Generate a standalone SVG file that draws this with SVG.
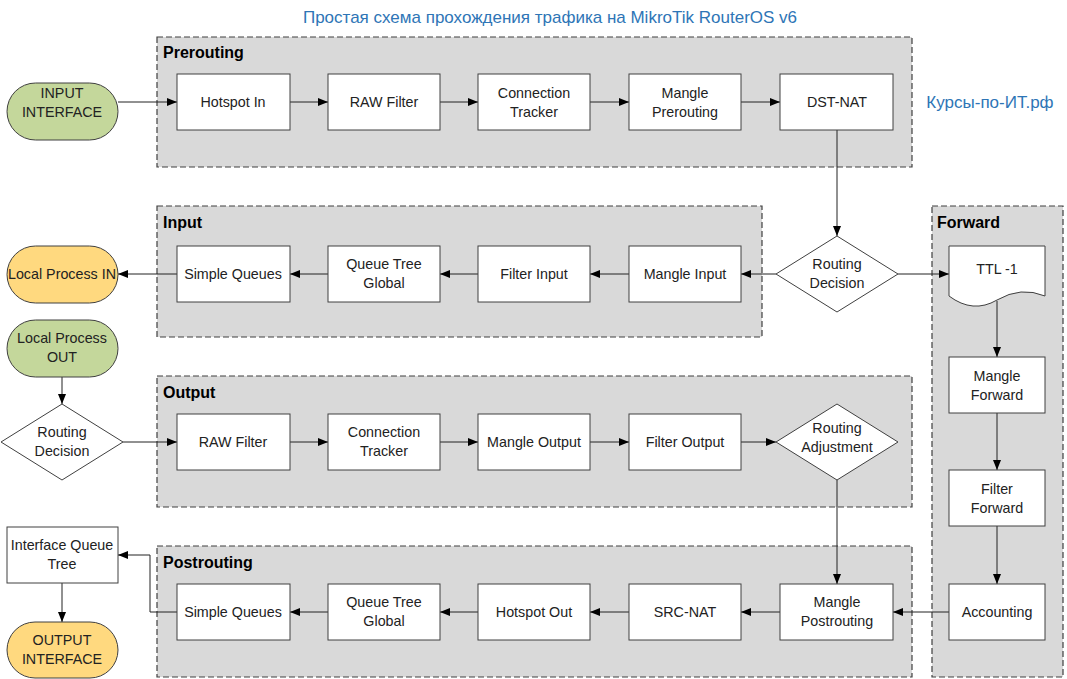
<svg xmlns="http://www.w3.org/2000/svg" width="1067" height="679" viewBox="0 0 1067 679">
<defs>
<marker id="ah" markerWidth="10" markerHeight="8" refX="10" refY="4" orient="auto" markerUnits="userSpaceOnUse">
<path d="M0,0 L10,4 L0,8 Z" fill="#000"/>
</marker>
<style>
.cl{fill:#D9D9D9;stroke:#404040;stroke-width:1.2;stroke-dasharray:6,3}
.ct{font-family:"Liberation Sans",Arial,sans-serif;font-weight:bold;font-size:16px;fill:#000}
.bx{fill:#fff;stroke:#404040;stroke-width:1}
.t{font-family:"Liberation Sans",Arial,sans-serif;font-size:14.3px;fill:#222;text-anchor:middle}
.gr{fill:#C4D79B;stroke:#404040;stroke-width:1}
.yl{fill:#FFD97F;stroke:#404040;stroke-width:1}
.ln{fill:none;stroke:#222;stroke-width:1;marker-end:url(#ah)}
.bl{font-family:"Liberation Sans",Arial,sans-serif;font-size:17px;fill:#2E75B6}
</style>
</defs>
<rect width="1067" height="679" fill="#fff"/>
<text class="bl" x="550" y="23" text-anchor="middle">Простая схема прохождения трафика на MikroTik RouterOS v6</text>
<text class="bl" x="990" y="108" text-anchor="middle">Курсы-по-ИТ.рф</text>

<g id="clusters">
<g id="prerouting"><rect class="cl" x="157" y="37" width="755" height="130"/><text class="ct" x="163" y="58">Prerouting</text></g>
<g id="input"><rect class="cl" x="157" y="206" width="605" height="131"/><text class="ct" x="163" y="228">Input</text></g>
<g id="forward"><rect class="cl" x="932" y="206" width="131" height="471"/><text class="ct" x="937" y="228">Forward</text></g>
<g id="output"><rect class="cl" x="157" y="376" width="755" height="131"/><text class="ct" x="163" y="398">Output</text></g>
<g id="postrouting"><rect class="cl" x="157" y="546" width="755" height="131"/><text class="ct" x="163" y="568">Postrouting</text></g>
</g>

<g id="connectors">
<path class="ln" d="M118,102 H177"/>
<path class="ln" d="M290,102 H328"/>
<path class="ln" d="M440,102 H478"/>
<path class="ln" d="M590,102 H629"/>
<path class="ln" d="M741,102 H780"/>
<path class="ln" d="M837,130 V236"/>
<path class="ln" d="M776,274 H741"/>
<path class="ln" d="M629,274 H590"/>
<path class="ln" d="M478,274 H440"/>
<path class="ln" d="M328,274 H290"/>
<path class="ln" d="M177,274 H118"/>
<path class="ln" d="M898,274 H949"/>
<path class="ln" d="M997,301 V357"/>
<path class="ln" d="M997,413 V470"/>
<path class="ln" d="M997,526 V584"/>
<path class="ln" d="M949,612 H893"/>
<path class="ln" d="M62,377 V404"/>
<path class="ln" d="M123,442 H177"/>
<path class="ln" d="M290,442 H328"/>
<path class="ln" d="M440,442 H478"/>
<path class="ln" d="M590,442 H629"/>
<path class="ln" d="M741,442 H776"/>
<path class="ln" d="M837,480 V584"/>
<path class="ln" d="M780,612 H741"/>
<path class="ln" d="M629,612 H590"/>
<path class="ln" d="M478,612 H440"/>
<path class="ln" d="M328,612 H290"/>
<path class="ln" d="M177,612 H150 V555 H118"/>
<path class="ln" d="M62,583 V622"/>
</g>

<g id="input-interface"><rect class="gr" x="7" y="83" width="111" height="57" rx="28.5"/><text class="t" x="62" y="98">INPUT</text><text class="t" x="62" y="117">INTERFACE</text></g>
<g id="hotspot-in"><rect class="bx" x="177" y="74" width="113" height="56"/><text class="t" x="233" y="107">Hotspot In</text></g>
<g id="raw-filter-pre"><rect class="bx" x="328" y="74" width="112" height="56"/><text class="t" x="384" y="107">RAW Filter</text></g>
<g id="conntrack-pre"><rect class="bx" x="478" y="74" width="112" height="56"/><text class="t" x="534" y="98">Connection</text><text class="t" x="534" y="117">Tracker</text></g>
<g id="mangle-prerouting"><rect class="bx" x="629" y="74" width="112" height="56"/><text class="t" x="685" y="98">Mangle</text><text class="t" x="685" y="117">Prerouting</text></g>
<g id="dst-nat"><rect class="bx" x="780" y="74" width="113" height="56"/><text class="t" x="837" y="107">DST-NAT</text></g>

<g id="routing-decision"><path class="bx" d="M837,236 L898,274 L837,312 L776,274 Z"/><text class="t" x="837" y="269">Routing</text><text class="t" x="837" y="288">Decision</text></g>
<g id="mangle-input"><rect class="bx" x="629" y="246" width="112" height="56"/><text class="t" x="685" y="279">Mangle Input</text></g>
<g id="filter-input"><rect class="bx" x="478" y="246" width="112" height="56"/><text class="t" x="534" y="279">Filter Input</text></g>
<g id="queue-tree-input"><rect class="bx" x="328" y="246" width="112" height="56"/><text class="t" x="384" y="269">Queue Tree</text><text class="t" x="384" y="288">Global</text></g>
<g id="simple-queues-input"><rect class="bx" x="177" y="246" width="113" height="56"/><text class="t" x="233" y="279">Simple Queues</text></g>
<g id="local-process-in"><rect class="yl" x="7" y="246" width="111" height="57" rx="28.5"/><text class="t" x="62" y="279">Local Process IN</text></g>

<g id="ttl"><path class="bx" d="M949,246 H1045 V296 Q1021,286 997,300 Q973,314 949,296 Z"/><text class="t" x="997" y="274">TTL -1</text></g>
<g id="mangle-forward"><rect class="bx" x="949" y="357" width="96" height="56"/><text class="t" x="997" y="381">Mangle</text><text class="t" x="997" y="400">Forward</text></g>
<g id="filter-forward"><rect class="bx" x="949" y="470" width="96" height="56"/><text class="t" x="997" y="494">Filter</text><text class="t" x="997" y="513">Forward</text></g>
<g id="accounting"><rect class="bx" x="949" y="584" width="96" height="56"/><text class="t" x="997" y="617">Accounting</text></g>

<g id="local-process-out"><rect class="gr" x="7" y="320" width="111" height="57" rx="28.5"/><text class="t" x="62" y="343">Local Process</text><text class="t" x="62" y="362">OUT</text></g>
<g id="routing-decision-out"><path class="bx" d="M62,404 L123,442 L62,480 L1,442 Z"/><text class="t" x="62" y="437">Routing</text><text class="t" x="62" y="456">Decision</text></g>
<g id="raw-filter-out"><rect class="bx" x="177" y="414" width="113" height="56"/><text class="t" x="233" y="447">RAW Filter</text></g>
<g id="conntrack-out"><rect class="bx" x="328" y="414" width="112" height="56"/><text class="t" x="384" y="437">Connection</text><text class="t" x="384" y="456">Tracker</text></g>
<g id="mangle-output"><rect class="bx" x="478" y="414" width="112" height="56"/><text class="t" x="534" y="447">Mangle Output</text></g>
<g id="filter-output"><rect class="bx" x="629" y="414" width="112" height="56"/><text class="t" x="685" y="447">Filter Output</text></g>
<g id="routing-adjustment"><path class="bx" d="M837,404 L898,442 L837,480 L776,442 Z"/><text class="t" x="837" y="433">Routing</text><text class="t" x="837" y="452">Adjustment</text></g>

<g id="mangle-postrouting"><rect class="bx" x="780" y="584" width="113" height="56"/><text class="t" x="837" y="607">Mangle</text><text class="t" x="837" y="626">Postrouting</text></g>
<g id="src-nat"><rect class="bx" x="629" y="584" width="112" height="56"/><text class="t" x="685" y="617">SRC-NAT</text></g>
<g id="hotspot-out"><rect class="bx" x="478" y="584" width="112" height="56"/><text class="t" x="534" y="617">Hotspot Out</text></g>
<g id="queue-tree-post"><rect class="bx" x="328" y="584" width="112" height="56"/><text class="t" x="384" y="607">Queue Tree</text><text class="t" x="384" y="626">Global</text></g>
<g id="simple-queues-post"><rect class="bx" x="177" y="584" width="113" height="56"/><text class="t" x="233" y="617">Simple Queues</text></g>
<g id="interface-queue-tree"><rect class="bx" x="7" y="527" width="111" height="56"/><text class="t" x="62" y="550">Interface Queue</text><text class="t" x="62" y="569">Tree</text></g>
<g id="output-interface"><rect class="yl" x="7" y="622" width="111" height="56" rx="28"/><text class="t" x="62" y="645">OUTPUT</text><text class="t" x="62" y="664">INTERFACE</text></g>
</svg>
